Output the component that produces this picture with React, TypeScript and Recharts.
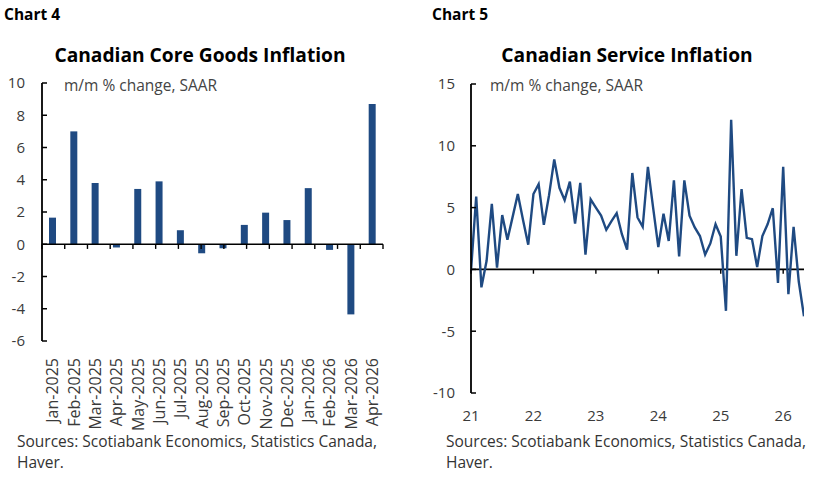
import React from 'react';
import {
  BarChart, Bar, LineChart, Line, XAxis, YAxis, ReferenceLine,
} from 'recharts';

// ---------- Chart 4 data ----------
const goodsMonths = [
  'Jan-2025', 'Feb-2025', 'Mar-2025', 'Apr-2025', 'May-2025', 'Jun-2025', 'Jul-2025', 'Aug-2025',
  'Sep-2025', 'Oct-2025', 'Nov-2025', 'Dec-2025', 'Jan-2026', 'Feb-2026', 'Mar-2026', 'Apr-2026',
];
const goodsValues = [1.65, 7.0, 3.8, -0.2, 3.43, 3.9, 0.87, -0.56, -0.25, 1.2, 1.96, 1.5, 3.48, -0.35, -4.35, 8.7];
const goodsTicks = [-6, -4, -2, 0, 2, 4, 6, 8, 10];

// ---------- Chart 5 data ----------
const serviceValues = [
  -0.1, 5.9, -1.45, 0.7, 5.3, 0.15, 4.4, 2.4, 4.25, 6.1, 4.0, 2.0,
  6.1, 6.9, 3.6, 6.0, 8.9, 6.6, 5.6, 7.1, 3.7, 7.0, 1.2, 5.66,
  5.0, 4.35, 3.2, 3.9, 4.55, 2.85, 1.6, 7.8, 4.2, 3.45, 8.3, 5.0,
  1.8, 4.5, 2.3, 7.2, 1.05, 7.2, 4.35, 3.4, 2.7, 1.2, 2.1, 3.65,
  2.65, -3.35, 12.1, 1.1, 6.5, 2.55, 2.45, 0.2, 2.7, 3.65, 4.95, -1.1,
  8.3, -2.0, 3.45, -1.0, -3.8,
];
const serviceYearTicks = [0, 12, 24, 36, 48, 60];
const serviceYearLabels = ['21', '22', '23', '24', '25', '26'];
const serviceTicks = [-10, -5, 0, 5, 10, 15];

const BLUE = '#1f4a82';
const FONT = '"Open Sans", "Noto Sans", sans-serif';
const TICK_COLOR = '#3a3a3a';

const goodsData = goodsMonths.map((m, i) => ({ month: m, value: goodsValues[i] }));
const serviceData = serviceValues.map((v, i) => ({ idx: i, value: v }));
const goodsBoundaries = goodsMonths.map((_, i) => i).concat([goodsMonths.length]);

const RotatedTick = (props: any) => {
  const { x, y, payload } = props;
  return (
    <text
      x={x}
      y={y}
      transform={`rotate(-90 ${x} ${y})`}
      textAnchor="end"
      dy="0.36em"
      fontSize={16}
      fill={TICK_COLOR}
      fontFamily={FONT}
    >
      {payload.value}
    </text>
  );
};

const abs = (s: React.CSSProperties): React.CSSProperties => ({ position: 'absolute', whiteSpace: 'nowrap', fontFamily: FONT, ...s });

export default function App() {
  return (
    <div style={{ position: 'absolute', left: 0, top: 0, width: 828, height: 483, background: '#fff', overflow: 'hidden' }}>
      {/* ---------------- Left chart ---------------- */}
      <div style={abs({ left: 4, top: 3, fontSize: 15.5, fontWeight: 700, color: '#000' })}>Chart 4</div>
      <div style={abs({ left: 0, width: 400, top: 41, textAlign: 'center', fontSize: 19.2, fontWeight: 700, color: '#000' })}>
        Canadian Core Goods Inflation
      </div>
      <div style={abs({ left: 0, top: 0 })}>
        <BarChart
          width={414}
          height={483}
          data={goodsData}
          margin={{ top: 83, right: 31, bottom: 62, left: 0 }}
          barSize={7}
        >
          <XAxis
            xAxisId="cat"
            dataKey="month"
            type="category"
            interval={0}
            axisLine={false}
            tickLine={false}
            tickMargin={11}
            height={80}
            tick={<RotatedTick />}
          />
          <XAxis xAxisId="num" type="number" domain={[0, 16]} hide allowDataOverflow />
          <YAxis
            type="number"
            domain={[-6, 10]}
            ticks={goodsTicks}
            interval={0}
            width={42}
            axisLine={{ stroke: '#000', strokeWidth: 1.8 }}
            tickLine={{ stroke: '#000', strokeWidth: 1.5 }}
            tickSize={-5}
            tickMargin={22}
            tick={{ fontSize: 15, fill: TICK_COLOR, fontFamily: FONT }}
            allowDataOverflow
          />
          <Bar xAxisId="cat" dataKey="value" fill={BLUE} isAnimationActive={false} />
          <ReferenceLine xAxisId="num" y={0} stroke="#000" strokeWidth={1.6} />
          {goodsBoundaries.map((b) => (
            <ReferenceLine
              key={b}
              xAxisId="num"
              segment={[{ x: b, y: 0 }, { x: b, y: -0.29 }]}
              stroke="#000"
              strokeWidth={1.4}
            />
          ))}
        </BarChart>
      </div>
      <div style={abs({ left: 64, top: 74, fontSize: 15.5, color: '#444' })}>m/m % change, SAAR</div>
      <div style={abs({ left: 17, top: 431, fontSize: 15.5, color: '#333', lineHeight: '21px' })}>
        Sources: Scotiabank Economics, Statistics Canada,
        <br />
        Haver.
      </div>

      {/* ---------------- Right chart ---------------- */}
      <div style={abs({ left: 432, top: 3, fontSize: 15.5, fontWeight: 700, color: '#000' })}>Chart 5</div>
      <div style={abs({ left: 427, width: 400, top: 41, textAlign: 'center', fontSize: 19.2, fontWeight: 700, color: '#000' })}>
        Canadian Service Inflation
      </div>
      <div style={abs({ left: 414, top: 0 })}>
        <LineChart
          width={414}
          height={483}
          data={serviceData}
          margin={{ top: 84, right: 24, bottom: 60, left: 0 }}
        >
          <XAxis
            dataKey="idx"
            type="number"
            domain={[0, 64]}
            ticks={serviceYearTicks}
            interval={0}
            tickFormatter={(v: number) => serviceYearLabels[serviceYearTicks.indexOf(v)] ?? ''}
            axisLine={false}
            tickLine={false}
            tickMargin={11}
            height={30}
            tick={{ fontSize: 15, fill: TICK_COLOR, fontFamily: FONT }}
            allowDataOverflow
          />
          <YAxis
            type="number"
            domain={[-10, 15]}
            ticks={serviceTicks}
            interval={0}
            width={57}
            axisLine={{ stroke: '#000', strokeWidth: 1.8 }}
            tickLine={{ stroke: '#000', strokeWidth: 1.5 }}
            tickSize={-5}
            tickMargin={21}
            tick={{ fontSize: 15, fill: TICK_COLOR, fontFamily: FONT }}
            allowDataOverflow
          />
          <ReferenceLine y={0} stroke="#000" strokeWidth={1.6} />
          {serviceYearTicks.map((t) => (
            <ReferenceLine
              key={t}
              segment={[{ x: t, y: 0 }, { x: t, y: -0.35 }]}
              stroke="#000"
              strokeWidth={1.4}
            />
          ))}
          <Line
            type="linear"
            dataKey="value"
            stroke={BLUE}
            strokeWidth={2.4}
            dot={false}
            isAnimationActive={false}
          />
        </LineChart>
      </div>
      <div style={abs({ left: 490, top: 74, fontSize: 15.5, color: '#444' })}>m/m % change, SAAR</div>
      <div style={abs({ left: 446, top: 431, fontSize: 15.5, color: '#333', lineHeight: '21px' })}>
        Sources: Scotiabank Economics, Statistics Canada,
        <br />
        Haver.
      </div>
    </div>
  );
}
